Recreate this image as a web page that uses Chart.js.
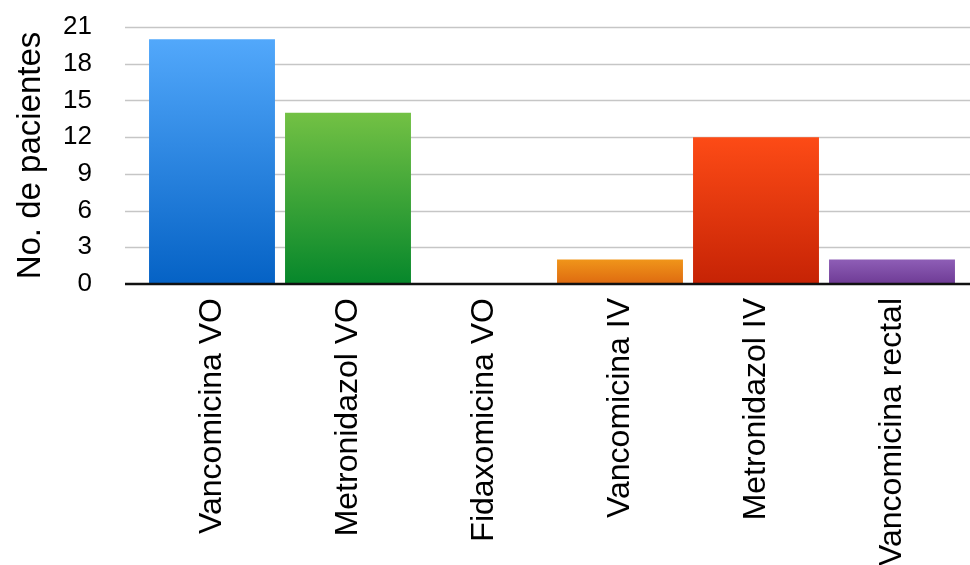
<!DOCTYPE html>
<html>
<head>
<meta charset="utf-8">
<script src="https://cdn.jsdelivr.net/npm/chart.js@4/dist/chart.umd.min.js"></script>
<style>
  html, body { margin: 0; padding: 0; background: #ffffff; }
  #wrap { width: 970px; height: 565px; position: relative; }
</style>
</head>
<body>
<div id="wrap"><canvas id="chart" width="970" height="565"></canvas></div>
<script>
// Treatment categories and patient counts
const categories = [
  'Vancomicina VO',
  'Metronidazol VO',
  'Fidaxomicina VO',
  'Vancomicina IV',
  'Metronidazol IV',
  'Vancomicina rectal'
];
const patients = [20, 14, 0, 2, 12, 2];
const yTicks = [0, 3, 6, 9, 12, 15, 18, 21];
const yTitle = 'No. de pacientes';

// Top / bottom gradient stops for each bar
const topColors = ['#52a8fb', '#73c144', '#73c144', '#f0951a', '#fd4b16', '#8e5eb6'];
const bottomColors = ['#0562c5', '#06872b', '#06872b', '#de6a10', '#c62305', '#6e3b95'];

const FONT = '"Liberation Sans", Arial, Helvetica, sans-serif';
const GRID_LEFT = 125;   // grid lines start a little left of the first category band
const GRID_RIGHT = 970;

function barFill(ctx) {
  const chart = ctx.chart;
  const i = ctx.dataIndex;
  if (!chart.chartArea || ctx.type !== 'data') return topColors[i];
  const y = chart.scales.y;
  const top = y.getPixelForValue(patients[i]);
  const base = y.getPixelForValue(0);
  if (base - top < 1) return topColors[i];
  const g = chart.ctx.createLinearGradient(0, top, 0, base);
  g.addColorStop(0, topColors[i]);
  g.addColorStop(1, bottomColors[i]);
  return g;
}

// Horizontal guide lines across the full plot width, and the baseline on top of the bars
const guides = {
  id: 'guides',
  beforeDatasetsDraw(chart) {
    const c = chart.ctx, y = chart.scales.y;
    c.save();
    c.strokeStyle = '#c6c6c6';
    c.lineWidth = 1.5;
    yTicks.forEach(v => {
      if (v === 0) return;
      const py = Math.round(y.getPixelForValue(v)) + 0.5;
      c.beginPath();
      c.moveTo(GRID_LEFT, py);
      c.lineTo(GRID_RIGHT, py);
      c.stroke();
    });
    c.restore();
  },
  afterDatasetsDraw(chart) {
    const c = chart.ctx, y = chart.scales.y;
    const py = y.getPixelForValue(0);
    c.save();
    c.strokeStyle = '#111111';
    c.lineWidth = 2.5;
    c.beginPath();
    c.moveTo(GRID_LEFT, py);
    c.lineTo(GRID_RIGHT, py);
    c.stroke();
    c.restore();
  }
};

new Chart(document.getElementById('chart'), {
  type: 'bar',
  data: {
    labels: categories,
    datasets: [{
      data: patients,
      backgroundColor: barFill,
      borderWidth: 0,
      barPercentage: 0.926,
      categoryPercentage: 1.0
    }]
  },
  options: {
    responsive: false,
    animation: false,
    devicePixelRatio: 1,
    layout: { padding: { top: 27, right: 10, left: 0, bottom: 0 } },
    plugins: {
      legend: { display: false },
      tooltip: { enabled: false }
    },
    scales: {
      x: {
        grid: { display: false, drawTicks: false },
        border: { display: false },
        ticks: {
          color: '#000000',
          font: { family: FONT, size: 32 },
          minRotation: 90,
          maxRotation: 90,
          autoSkip: false,
          padding: 14
        },
        afterFit(scale) {
          scale.height = 281;
          scale.paddingLeft = 0;
          scale.paddingRight = 0;
        }
      },
      y: {
        min: 0,
        max: 21,
        afterBuildTicks(scale) { scale.ticks = yTicks.map(v => ({ value: v })); },
        grid: { display: false, drawTicks: false },
        border: { display: false },
        ticks: {
          color: '#000000',
          font: { family: FONT, size: 26 },
          padding: 52,
          autoSkip: false
        },
        title: {
          display: true,
          text: yTitle,
          color: '#000000',
          font: { family: FONT, size: 33 },
          padding: { top: 11, bottom: 0 }
        },
        afterFit(scale) {
          scale.width = 144;
          scale.paddingTop = 0;
          scale.paddingBottom = 0;
        }
      }
    }
  },
  plugins: [guides]
});
</script>
</body>
</html>
